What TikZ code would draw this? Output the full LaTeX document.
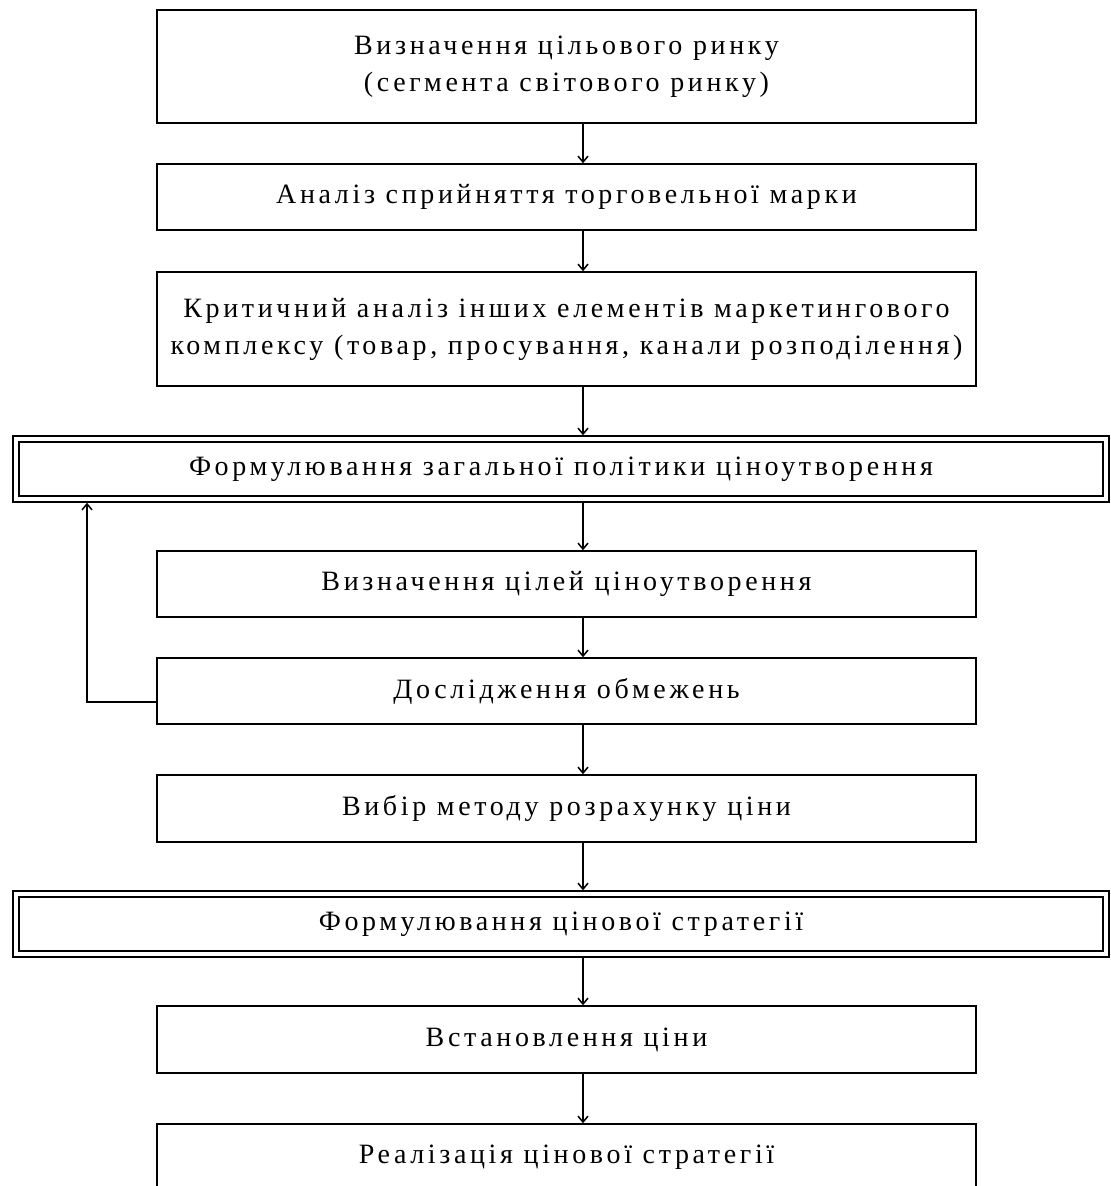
\documentclass[tikz,border=0pt]{standalone}
\usepackage{fontspec}
\setmainfont[LetterSpace=13]{Liberation Serif}
\usetikzlibrary{arrows.meta}

\begin{document}
\begin{tikzpicture}[x=1pt,y=-1pt,
    stage/.style ={draw, line width=1.5pt, minimum width=819pt, align=center,
      font=\fontsize{28}{37}\selectfont, inner sep=0pt},
    policy/.style ={draw, line width=1.4pt, double, double distance=4.5pt,
      minimum width=1090pt, minimum height=60pt, outer sep=3.7pt,
      font=\fontsize{28}{37}\selectfont, inner sep=0pt},
    arr/.style ={line width=1.5pt, -{Straight Barb[length=6pt,width=10pt]}}]
   \useasboundingbox (0,0) rectangle (1111,1186);
   \node[stage, minimum height=113pt] (goal) at (566.5,66.5)
      {Визначення цільового ринку\\(сегмента світового ринку)};
   \node[stage, minimum height=66pt] (brand) at (566.5,197)
      {Аналіз сприйняття торговельної марки};
   \node[stage, minimum height=114pt] (mix) at (566.5,329)
      {Критичний аналіз інших елементів маркетингового\\комплексу (товар, просування, канали розподілення)};
   \node[policy] (policy) at (561,469)
      {Формулювання загальної політики ціноутворення};
   \node[stage, minimum height=66pt] (aims) at (566.5,584)
      {Визначення цілей ціноутворення};
   \node[stage, minimum height=66pt] (limits) at (566.5,691)
      {Дослідження обмежень};
   \node[stage, minimum height=67pt] (method) at (566.5,808.5)
      {Вибір методу розрахунку ціни};
   \node[policy] (strategy) at (561,924)
      {Формулювання цінової стратегії};
   \node[stage, minimum height=67pt] (price) at (566.5,1039.5)
      {Встановлення ціни};
   \node[stage, minimum height=66pt] (realise) at (566.5,1157)
      {Реалізація цінової стратегії};
   \coordinate (ax) at (583,0);
   \coordinate (fb) at (87,0);
   \draw[arr] (goal.south -| ax) -- (brand.north -| ax);
   \draw[arr] (brand.south -| ax) -- (mix.north -| ax);
   \draw[arr] (mix.south -| ax) -- (policy.north -| ax);
   \draw[arr] (policy.south -| ax) -- (aims.north -| ax);
   \draw[arr] (aims.south -| ax) -- (limits.north -| ax);
   \draw[arr] (limits.south -| ax) -- (method.north -| ax);
   \draw[arr] (method.south -| ax) -- (strategy.north -| ax);
   \draw[arr] (strategy.south -| ax) -- (price.north -| ax);
   \draw[arr] (price.south -| ax) -- (realise.north -| ax);
   \draw[arr] ([yshift=-11pt]limits.west) -| (policy.south -| fb);
 \end{tikzpicture}
\end{document}
